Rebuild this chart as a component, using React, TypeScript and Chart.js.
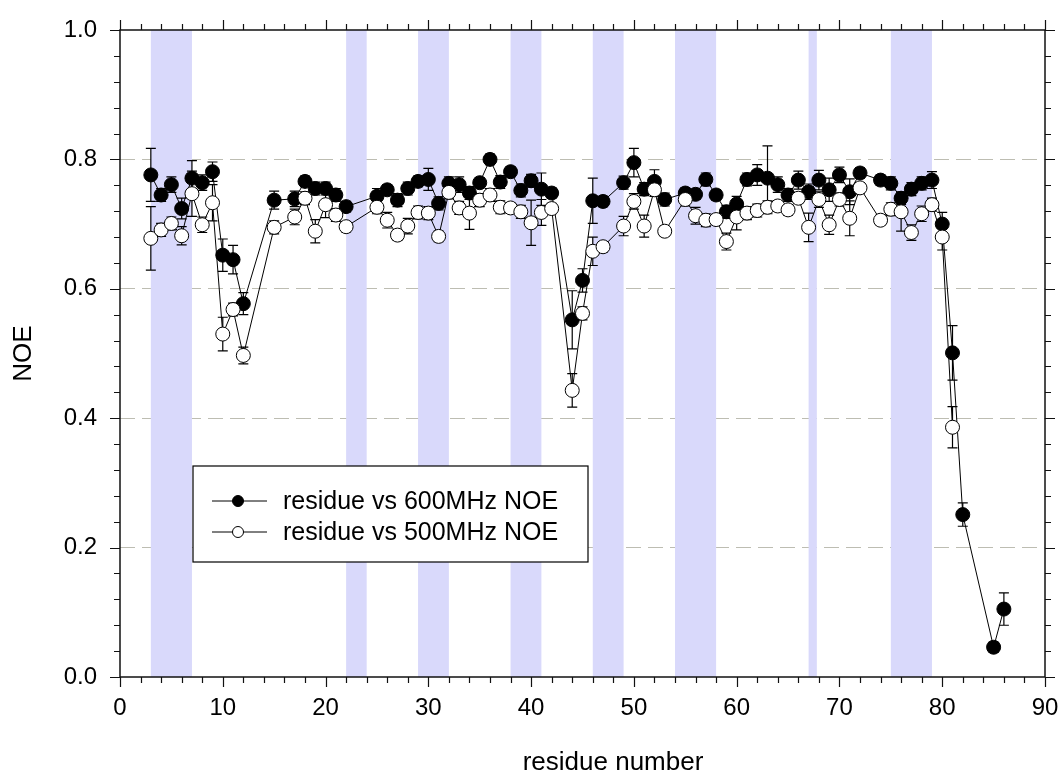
import React, { useEffect, useRef } from "react";
import { Chart, registerables } from "chart.js";
Chart.register(...registerables);

const FONT = '"Liberation Sans", Arial, sans-serif';

const residues600 = [3, 4, 5, 6, 7, 8, 9, 10, 11, 12, 15, 17, 18, 19, 20, 21, 22, 25, 26, 27, 28, 29, 30, 31, 32, 33, 34, 35, 36, 37, 38, 39, 40, 41, 42, 44, 45, 46, 47, 49, 50, 51, 52, 53, 55, 56, 57, 58, 59, 60, 61, 62, 63, 64, 65, 66, 67, 68, 69, 70, 71, 72, 74, 75, 76, 77, 78, 79, 80, 81, 82, 85, 86];
const noe600 = [0.776, 0.745, 0.761, 0.724, 0.771, 0.764, 0.781, 0.652, 0.645, 0.577, 0.737, 0.739, 0.766, 0.755, 0.755, 0.745, 0.727, 0.743, 0.753, 0.737, 0.755, 0.766, 0.769, 0.732, 0.763, 0.761, 0.748, 0.764, 0.800, 0.765, 0.781, 0.752, 0.767, 0.754, 0.748, 0.552, 0.613, 0.736, 0.735, 0.764, 0.795, 0.754, 0.766, 0.738, 0.748, 0.746, 0.769, 0.745, 0.719, 0.731, 0.769, 0.776, 0.771, 0.761, 0.745, 0.768, 0.750, 0.768, 0.753, 0.776, 0.750, 0.779, 0.768, 0.763, 0.740, 0.754, 0.763, 0.768, 0.700, 0.501, 0.251, 0.046, 0.105];
const err600 = [0.041, 0.010, 0.012, 0.016, 0.027, 0.012, 0.015, 0.025, 0.022, 0.017, 0.014, 0.012, 0.008, 0.010, 0.010, 0.010, 0.008, 0.012, 0.008, 0.010, 0.010, 0.008, 0.017, 0.010, 0.010, 0.012, 0.010, 0.008, 0.008, 0.010, 0.008, 0.010, 0.010, 0.025, 0.008, 0.045, 0.018, 0.035, 0.008, 0.010, 0.022, 0.010, 0.018, 0.010, 0.008, 0.008, 0.010, 0.008, 0.010, 0.012, 0.010, 0.016, 0.050, 0.012, 0.010, 0.014, 0.012, 0.015, 0.018, 0.012, 0.020, 0.008, 0.008, 0.010, 0.010, 0.010, 0.010, 0.013, 0.018, 0.042, 0.018, 0.008, 0.025];

const residues500 = [3, 4, 5, 6, 7, 8, 9, 10, 11, 12, 15, 17, 18, 19, 20, 21, 22, 25, 26, 27, 28, 29, 30, 31, 32, 33, 34, 35, 36, 37, 38, 39, 40, 41, 42, 44, 45, 46, 47, 49, 50, 51, 52, 53, 55, 56, 57, 58, 59, 60, 61, 62, 63, 64, 65, 66, 67, 68, 69, 70, 71, 72, 74, 75, 76, 77, 78, 79, 80, 81];
const noe500 = [0.678, 0.691, 0.701, 0.682, 0.747, 0.699, 0.733, 0.530, 0.568, 0.497, 0.695, 0.711, 0.740, 0.689, 0.730, 0.714, 0.696, 0.726, 0.706, 0.683, 0.697, 0.718, 0.717, 0.681, 0.749, 0.725, 0.717, 0.737, 0.745, 0.726, 0.725, 0.719, 0.702, 0.718, 0.724, 0.443, 0.562, 0.658, 0.665, 0.697, 0.735, 0.697, 0.753, 0.689, 0.738, 0.713, 0.706, 0.707, 0.673, 0.711, 0.717, 0.721, 0.726, 0.728, 0.722, 0.740, 0.695, 0.738, 0.699, 0.738, 0.709, 0.756, 0.706, 0.723, 0.719, 0.687, 0.716, 0.730, 0.680, 0.386];
const err500 = [0.049, 0.010, 0.010, 0.014, 0.035, 0.012, 0.028, 0.026, 0.010, 0.013, 0.010, 0.012, 0.010, 0.018, 0.020, 0.010, 0.008, 0.010, 0.012, 0.008, 0.012, 0.010, 0.010, 0.008, 0.010, 0.010, 0.025, 0.010, 0.010, 0.010, 0.008, 0.010, 0.035, 0.020, 0.008, 0.026, 0.010, 0.022, 0.008, 0.015, 0.012, 0.017, 0.010, 0.008, 0.010, 0.013, 0.010, 0.008, 0.013, 0.020, 0.010, 0.010, 0.010, 0.008, 0.008, 0.008, 0.022, 0.012, 0.015, 0.010, 0.027, 0.008, 0.008, 0.010, 0.030, 0.012, 0.012, 0.010, 0.020, 0.032];

const bandStart = [3, 22, 29, 38, 46, 54, 67, 75];
const bandEnd = [7, 24, 32, 41, 49, 58, 67.8, 79];

const legendLabels = ["residue vs 600MHz NOE", "residue vs 500MHz NOE"];
const xTitle = "residue number";
const yTitle = "NOE";

const decorPlugin = {
  id: "decor",
  beforeDatasetsDraw(chart: any) {
    const { ctx, chartArea } = chart;
    const xs = chart.scales.x;
    const ys = chart.scales.y;
    ctx.save();
    ctx.fillStyle = "#d9d9fb";
    for (let i = 0; i < bandStart.length; i++) {
      const x1 = xs.getPixelForValue(bandStart[i]);
      const x2 = xs.getPixelForValue(bandEnd[i]);
      ctx.fillRect(x1, chartArea.top, x2 - x1, chartArea.bottom - chartArea.top);
    }
    ctx.strokeStyle = "#000";
    ctx.lineWidth = 1.2;
    const drawErr = (res: number[], val: number[], err: number[]) => {
      for (let i = 0; i < res.length; i++) {
        const x = xs.getPixelForValue(res[i]);
        const yt = ys.getPixelForValue(val[i] + err[i]);
        const yb = ys.getPixelForValue(val[i] - err[i]);
        ctx.beginPath();
        ctx.moveTo(x, yt);
        ctx.lineTo(x, yb);
        ctx.moveTo(x - 5, yt);
        ctx.lineTo(x + 5, yt);
        ctx.moveTo(x - 5, yb);
        ctx.lineTo(x + 5, yb);
        ctx.stroke();
      }
    };
    drawErr(residues600, noe600, err600);
    drawErr(residues500, noe500, err500);
    ctx.restore();
  },
  afterDatasetsDraw(chart: any) {
    const { ctx, chartArea } = chart;
    const { left, right, top, bottom } = chartArea;
    const xs = chart.scales.x;
    const ys = chart.scales.y;
    ctx.save();
    ctx.strokeStyle = "#111";
    ctx.lineWidth = 1.5;
    ctx.strokeRect(left, top, right - left, bottom - top);
    ctx.lineWidth = 1.2;
    ctx.beginPath();
    for (let v = 0; v <= 90; v += 2) {
      const len = v % 10 === 0 ? 10 : 6;
      const x = Math.round(xs.getPixelForValue(v)) + 0.5;
      ctx.moveTo(x, bottom);
      ctx.lineTo(x, bottom + len);
      ctx.moveTo(x, top);
      ctx.lineTo(x, top - len);
    }
    for (let k = 0; k <= 25; k++) {
      const v = k * 0.04;
      const len = k % 5 === 0 ? 10 : 6;
      const y = Math.round(ys.getPixelForValue(v)) + 0.5;
      ctx.moveTo(left - len, y);
      ctx.lineTo(left, y);
      ctx.moveTo(right, y);
      ctx.lineTo(right + len, y);
    }
    ctx.stroke();

    const bx = left + 73;
    const by = top + 436;
    const bw = 395;
    const bh = 96;
    ctx.fillStyle = "#fff";
    ctx.fillRect(bx, by, bw, bh);
    ctx.strokeStyle = "#000";
    ctx.lineWidth = 1.2;
    ctx.strokeRect(bx, by, bw, bh);
    const rows = [by + 35, by + 66];
    const fills = ["#000", "#fff"];
    for (let i = 0; i < 2; i++) {
      const y = rows[i];
      ctx.beginPath();
      ctx.moveTo(bx + 19, y);
      ctx.lineTo(bx + 74, y);
      ctx.lineWidth = 1;
      ctx.stroke();
      ctx.beginPath();
      ctx.arc(bx + 45, y, 5.5, 0, Math.PI * 2);
      ctx.fillStyle = fills[i];
      ctx.fill();
      ctx.stroke();
      ctx.fillStyle = "#000";
      ctx.font = `25px ${FONT}`;
      ctx.textAlign = "left";
      ctx.textBaseline = "middle";
      ctx.fillText(legendLabels[i], bx + 90, y + 1);
    }

    ctx.font = `26px ${FONT}`;
    ctx.textAlign = "center";
    ctx.textBaseline = "alphabetic";
    ctx.fillStyle = "#000";
    ctx.fillText(xTitle, left + 0.533 * (right - left), 770);
    ctx.restore();
  },
};

export default function App() {
  const ref = useRef<HTMLCanvasElement>(null);
  useEffect(() => {
    if (!ref.current) return;
    const chart = new Chart(ref.current, {
      type: "line",
      data: {
        datasets: [
          {
            label: legendLabels[1],
            data: residues500.map((r, i) => ({ x: r, y: noe500[i] })),
            borderColor: "#000",
            borderWidth: 1,
            pointRadius: 7,
            pointBackgroundColor: "#fff",
            pointBorderColor: "#000",
            pointBorderWidth: 1,
            tension: 0,
            order: 1,
          },
          {
            label: legendLabels[0],
            data: residues600.map((r, i) => ({ x: r, y: noe600[i] })),
            borderColor: "#000",
            borderWidth: 1,
            pointRadius: 7,
            pointBackgroundColor: "#000",
            pointBorderColor: "#000",
            pointBorderWidth: 1,
            tension: 0,
            order: 2,
          },
        ],
      },
      options: {
        animation: false,
        responsive: false,
        devicePixelRatio: 1,
        layout: { padding: { left: 0, right: 18, top: 30, bottom: 0 } },
        plugins: { legend: { display: false }, tooltip: { enabled: false } },
        scales: {
          x: {
            type: "linear",
            min: 0,
            max: 90,
            ticks: { stepSize: 10, color: "#000", font: { family: FONT, size: 24 }, padding: 0, maxRotation: 0 },
            grid: {
              display: true,
              drawOnChartArea: false,
              drawTicks: true,
              tickLength: 17,
              color: "rgba(0,0,0,0)",
              tickColor: "rgba(0,0,0,0)",
            },
            border: { display: false },
            afterFit: (s: any) => {
              s.height = 96;
            },
          },
          y: {
            type: "linear",
            min: 0,
            max: 1,
            ticks: {
              stepSize: 0.2,
              color: "#000",
              font: { family: FONT, size: 24 },
              padding: 0,
              callback: (v: any) => Number(v).toFixed(1),
            },
            grid: {
              drawTicks: true,
              tickLength: 23,
              tickColor: "rgba(0,0,0,0)",
              color: (c: any) =>
                c.tick && (Math.abs(c.tick.value) < 1e-6 || Math.abs(c.tick.value - 1) < 1e-6)
                  ? "rgba(0,0,0,0)"
                  : "#bdbdb2",
              borderDash: [15, 7],
              lineWidth: 1,
            },
            border: { display: false, dash: [15, 7] },
            title: { display: true, text: yTitle, color: "#000", font: { family: FONT, size: 26 }, padding: { top: 8, bottom: 0 } },
            afterFit: (s: any) => {
              s.width = 120;
            },
          },
        },
      },
      plugins: [decorPlugin],
    } as any);
    return () => chart.destroy();
  }, []);
  return (
    <div style={{ position: "fixed", left: 0, top: 0, width: 1063, height: 773, background: "#fff" }}>
      <canvas ref={ref} width={1063} height={773} style={{ display: "block" }} />
    </div>
  );
}
